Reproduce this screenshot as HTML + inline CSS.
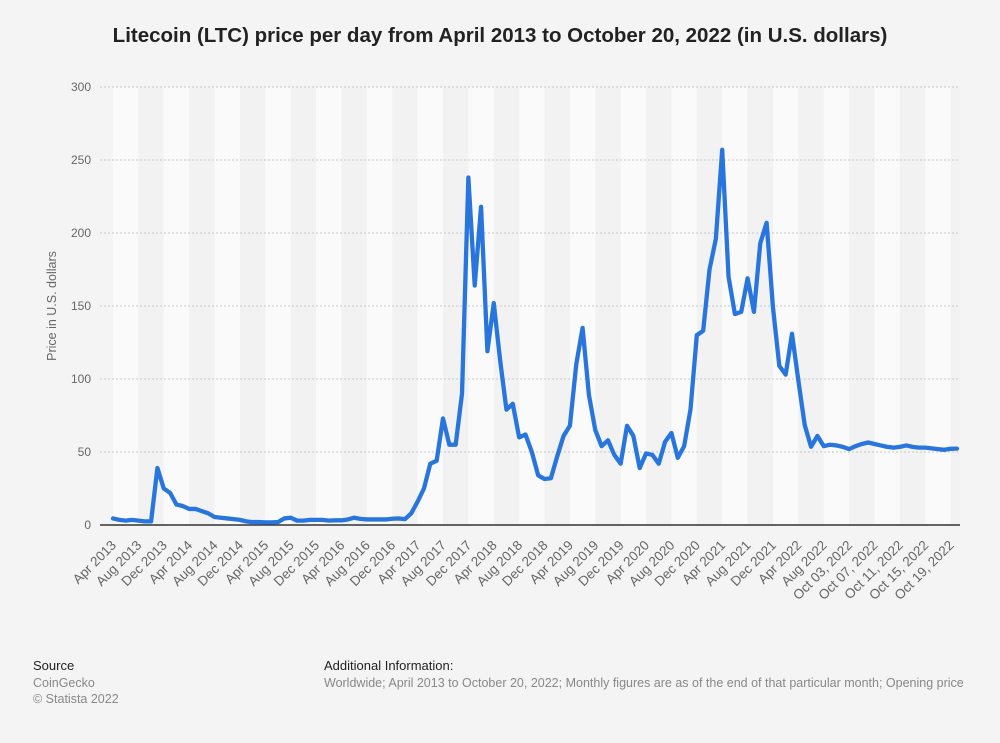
<!DOCTYPE html>
<html><head><meta charset="utf-8">
<style>
html,body{margin:0;padding:0;background:#f4f4f4;}
body{width:1000px;height:743px;overflow:hidden;font-family:"Liberation Sans",Arial,sans-serif;}
</style></head>
<body>
<svg id="chart" width="1000" height="743" xmlns="http://www.w3.org/2000/svg" style="position:absolute;left:0;top:0">
  <rect x="0" y="0" width="1000" height="743" fill="#f4f4f4"/>
  <text x="500" y="42" text-anchor="middle" font-size="20.5" font-weight="bold" fill="#222">Litecoin (LTC) price per day from April 2013 to October 20, 2022 (in U.S. dollars)</text>
  <g id="bands"></g><g id="grid"></g><g id="yticks"></g><g id="xticks"></g>
  <text transform="translate(56,306) rotate(-90)" text-anchor="middle" font-size="12.5" fill="#666">Price in U.S. dollars</text>
  <g id="series"></g>
  <text x="33" y="670" font-size="13" fill="#222">Source</text>
  <text x="33" y="687" font-size="12.5" fill="#888">CoinGecko</text>
  <text x="33" y="703" font-size="12.5" fill="#888">© Statista 2022</text>
  <text x="324" y="670" font-size="13" fill="#222">Additional Information:</text>
  <text x="324" y="687" font-size="12.5" fill="#888">Worldwide; April 2013 to October 20, 2022; Monthly figures are as of the end of that particular month; Opening price</text>
</svg>
<script>
const monthlyPrices = [
 4.5,3.5,3,3.5,3,2.5,2.5,39,25,
 22,14,13,11,11,9.5,8,5.5,5,4.5,4,3.5,
 2.5,2,2,1.8,1.8,2,4.5,5,3,3,3.5,3.5,
 3.5,3,3.2,3.2,3.8,5,4.2,3.8,3.8,3.8,3.8,4.3,
 4.5,4,8,16,25,42,44,73,55,55,90,238,
 164,218,119,152,113,79,83,60,62,50,34,31.5,
 32,47,61,68,110,135,89,65,54,58,48,42,
 68,61,39,49,48,42,57,63,46,54,79,130,
 133,175,196,257,170,144.5,146,169,146,193,207,149,
 109,103,131,99,68.5,53.6,61,54,55
];
const dailyPrices = [54.5,53.5,52,54,55.5,56.5,55.5,54.5,53.5,53,53.5,54.5,53.5,53,53,52.5,52,51.5,52.2,52.3];
const yTicks = [0,50,100,150,200,250,300];
const monthNames = ["Jan","Feb","Mar","Apr","May","Jun","Jul","Aug","Sep","Oct","Nov","Dec"];

const categories = [];
for (let i = 0; i < monthlyPrices.length; i++) {
  const m = (3 + i) % 12, y = 2013 + Math.floor((3 + i) / 12);
  categories.push(monthNames[m] + " " + y);
}
for (let d = 1; d <= dailyPrices.length; d++) categories.push("Oct " + String(d).padStart(2, "0") + ", 2022");
const values = monthlyPrices.concat(dailyPrices);

const NS = "http://www.w3.org/2000/svg";
const X0 = 113, X1 = 957, Y0 = 525, Y1 = 87, YMAX = 300;
const n = values.length;
const step = (X1 - X0) / (n - 1);
const xs = i => X0 + i * step;
const ys = v => Y0 - (v / YMAX) * (Y0 - Y1);
function mk(tag, attrs, parent) { const e = document.createElementNS(NS, tag); for (const k in attrs) e.setAttribute(k, attrs[k]); parent.appendChild(e); return e; }

const bands = document.getElementById("bands");
for (let i = 0; i < n; i += 4) {
  const b = mk("rect", {x: xs(i), y: Y1, width: Math.min(4 * step, 960 - xs(i)), height: Y0 - Y1, fill: (i / 4) % 2 === 0 ? "#fafafa" : "#f2f2f2"}, bands);
  
  
}
const grid = document.getElementById("grid"), yt = document.getElementById("yticks");
yTicks.forEach(t => {
  if (t > 0) {
    const g = mk("line", {x1: 100, x2: 960, y1: ys(t), y2: ys(t), stroke: "#c8c8c8", "stroke-dasharray": "2,2", "stroke-width": 1}, grid);
    
    
  }
  const tx = mk("text", {x: 91, y: ys(t) + 4, "text-anchor": "end", "font-size": 12, fill: "#666"}, yt);
  tx.textContent = t;
  
  
});
const base = mk("line", {x1: 100, x2: 960, y1: Y0, y2: Y0, stroke: "#333", "stroke-width": 1.5}, grid);



const xt = document.getElementById("xticks");
for (let i = 0; i < n; i += 4) {
  const x = xs(i) + 4, y = 546;
  const tx = mk("text", {x: x, y: y, "text-anchor": "end", "font-size": 13.5, fill: "#666", transform: `rotate(-45 ${x} ${y})`}, xt);
  tx.textContent = categories[i];
  
  
}

const series = document.getElementById("series");
let d = "";
values.forEach((v, i) => { d += (i ? "L" : "M") + xs(i).toFixed(2) + "," + ys(v).toFixed(2); });
const line = mk("path", {d: d, fill: "none", stroke: "#2876dd", "stroke-width": 4.3, "stroke-linejoin": "round", "stroke-linecap": "round"}, series);


</script>
</body></html>
